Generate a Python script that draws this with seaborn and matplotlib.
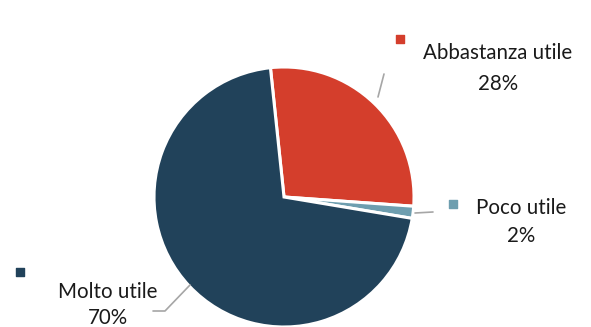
import matplotlib
matplotlib.use("Agg")
import matplotlib.pyplot as plt
import seaborn as sns

categories = ["Abbastanza utile", "Poco utile", "Molto utile"]
values = [27.8, 1.5, 70.7]
pct_labels = ["28%", "2%", "70%"]
colors = ["#D43E2C", "#6E9EAF", "#21425A"]

sns.set_theme(style="white")
plt.rcParams['font.family'] = ['Lato', 'DejaVu Sans']

W, H = 591, 327
fig = plt.figure(figsize=(W / 100, H / 100), dpi=100)
ax = fig.add_axes([0, 0, 1, 1])

def py(y):
    return H - y

cx, cy, r = 284, 197, 130
ax.pie(values, colors=colors, startangle=96, counterclock=False,
       center=(cx, py(cy)), radius=r, explode=[0.025, 0, 0],
       wedgeprops=dict(edgecolor="white", linewidth=2.2), frame=True)
ax.set_xlim(0, W)
ax.set_ylim(0, H)
ax.axis("off")

# label positions (pixel coords)
lab = {
    "Abbastanza utile": dict(sq=(400, 39), txt=(498, 53), pct=(498, 84)),
    "Poco utile": dict(sq=(453, 204), txt=(521, 208), pct=(521, 236)),
    "Molto utile": dict(sq=(20, 272), txt=(108, 292), pct=(108, 318)),
}
for cat, col, pct in zip(categories, colors, pct_labels):
    d = lab[cat]
    ax.scatter([d["sq"][0]], [py(d["sq"][1])], marker="s", s=38, color=col, zorder=5)
    ax.text(d["txt"][0], py(d["txt"][1]), cat, ha="center", va="center",
            fontsize=14.8, color="#1a1a1a")
    ax.text(d["pct"][0], py(d["pct"][1]), pct, ha="center", va="center",
            fontsize=14.8, color="#1a1a1a")

lc = "#a6a6a6"
ax.plot([378, 384], [py(97), py(74)], color=lc, lw=1.2)
ax.plot([415, 433], [py(213), py(212)], color=lc, lw=1.2)
ax.plot([190, 165, 153], [py(285), py(311), py(311)], color=lc, lw=1.2)

fig.savefig("out.png", dpi=100)
